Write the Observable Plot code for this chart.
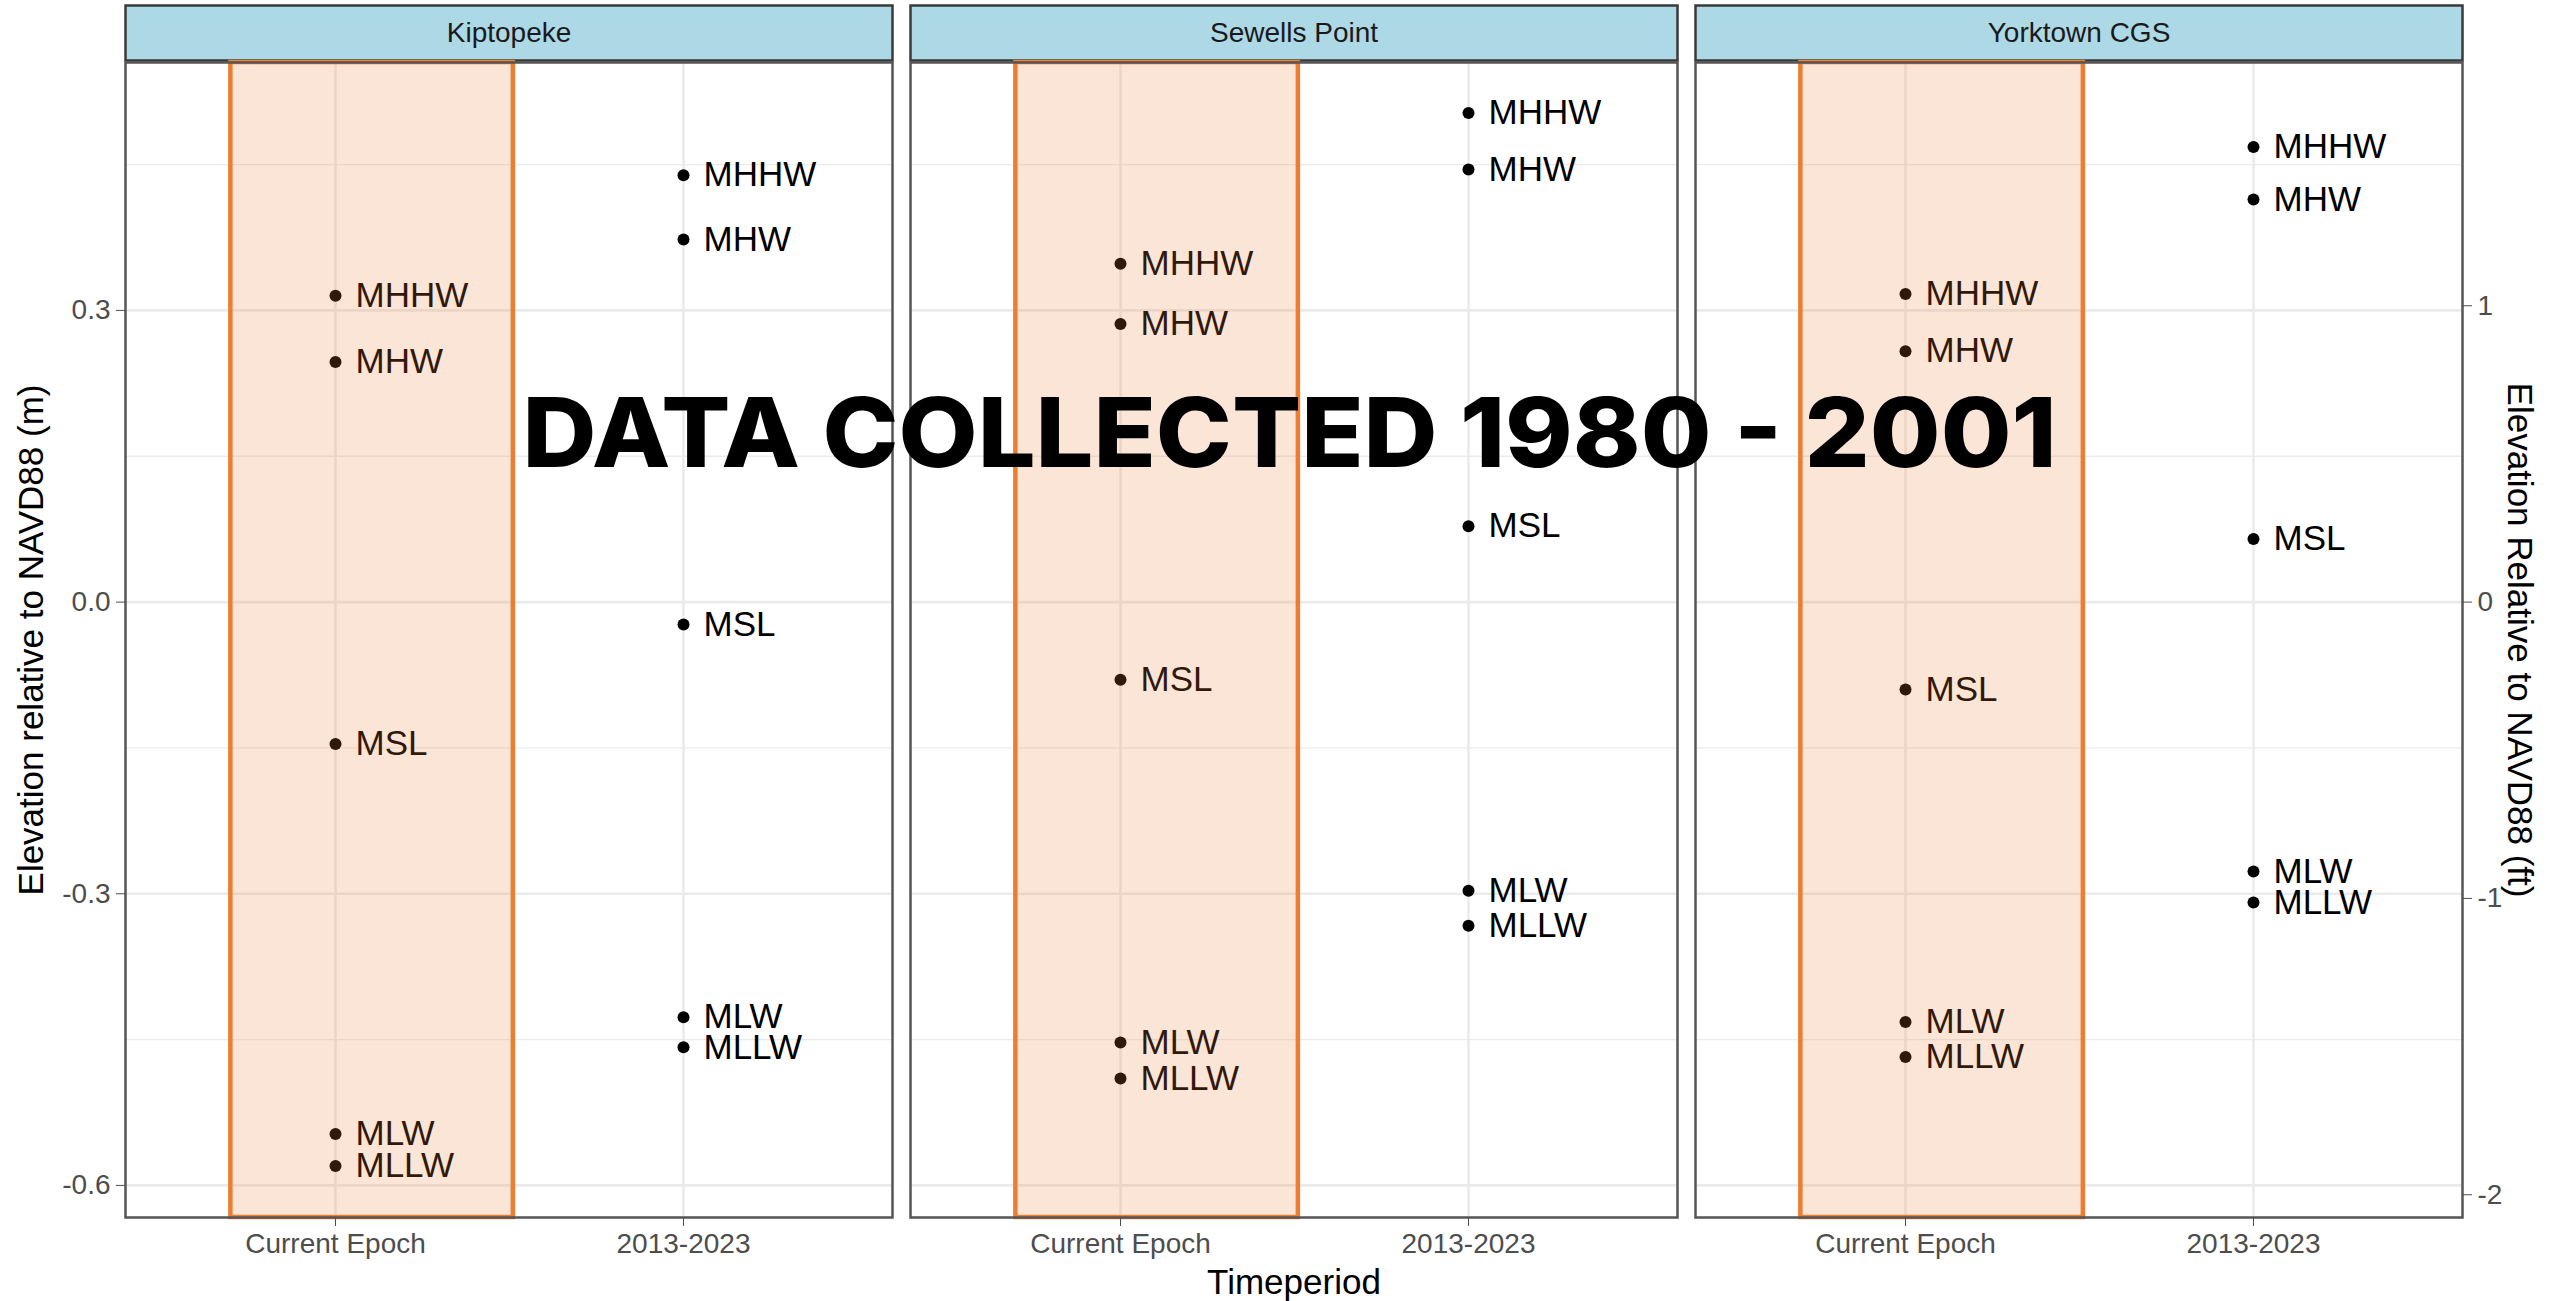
<!DOCTYPE html>
<html>
<head>
<meta charset="utf-8">
<script src="https://cdn.jsdelivr.net/npm/d3@7"></script>
<script src="https://cdn.jsdelivr.net/npm/@observablehq/plot@0.6"></script>
<style>
  html, body { margin: 0; padding: 0; background: #fff; }
  #wrap { position: relative; width: 2552px; height: 1301px; overflow: hidden; background: #fff; }
  #chart svg { display: block; }
  #overlay {
    position: absolute; left: 0; top: 0; white-space: nowrap;
    font-family: Inter, "Open Sans", sans-serif; font-weight: 800;
    font-size: 96px; line-height: 1; color: #000; transform-origin: 50% 0;
  }
  #overlay .bl { display: inline-block; width: 0; height: 0; vertical-align: baseline; }
</style>
</head>
<body>
<div id="wrap">
  <div id="chart"></div>
  <div id="overlay">DATA COLLECTED 1980 - 2001<span class="bl"></span></div>
</div>
<script>
// ---- data (metres relative to NAVD88) ----
const sites = ["Kiptopeke", "Sewells Point", "Yorktown CGS"];
const periods = ["Current Epoch", "2013-2023"];
const datums = ["MHHW", "MHW", "MSL", "MLW", "MLLW"];

const kiptopekeCurrent = [0.315, 0.247, -0.146, -0.547, -0.580];
const kiptopekeRecent  = [0.439, 0.373, -0.023, -0.427, -0.458];
const sewellsCurrent   = [0.348, 0.286, -0.080, -0.453, -0.490];
const sewellsRecent    = [0.503, 0.445, 0.078, -0.297, -0.333];
const yorktownCurrent  = [0.317, 0.258, -0.090, -0.432, -0.468];
const yorktownRecent   = [0.468, 0.414, 0.065, -0.277, -0.309];

const yTicksM = [0.3, 0.0, -0.3, -0.6];
const yMinorM = [0.45, 0.15, -0.15, -0.45];
const yTicksFt = [1, 0, -1, -2];
const yDomain = [-0.633, 0.555];

const yTitleM = "Elevation relative to NAVD88 (m)";
const yTitleFt = "Elevation Relative to NAVD88 (ft)";
const xTitle = "Timeperiod";

// ---- table ----
const seriesBySite = {
  "Kiptopeke": [kiptopekeCurrent, kiptopekeRecent],
  "Sewells Point": [sewellsCurrent, sewellsRecent],
  "Yorktown CGS": [yorktownCurrent, yorktownRecent]
};
const data = [];
for (const s of sites) {
  periods.forEach((p, j) => {
    datums.forEach((d, k) => data.push({site: s, period: p, datum: d, value: seriesBySite[s][j][k]}));
  });
}

// ---- layout ----
const W = 2552, H = 1301;
const mL = 125, mR = 89, mT = 62, mB = 84;
const gap = 18;
const frameH = H - mT - mB;
const step = (W - mL - mR + gap) / sites.length;
const padInner = gap / step;
const bandW = step - gap;
const xPad = 0.6;
const xStep = bandW / (periods.length - 1 + 2 * xPad);
const M_PER_FT = 0.3048;

const fmtM = d => d3.format(".1f")(d).replace("\u2212", "-");
const fmtFt = d => String(Math.round(d / M_PER_FT));

const chart = Plot.plot({
  width: W, height: H,
  marginTop: mT, marginRight: mR, marginBottom: mB, marginLeft: mL,
  style: {fontFamily: "'Liberation Sans', Arial, Helvetica, sans-serif", background: "white", color: "black"},
  fx: {domain: sites, paddingInner: padInner, paddingOuter: 0, label: null},
  x: {type: "point", domain: periods, padding: xPad, label: null},
  y: {domain: yDomain, label: null},
  marks: [
    Plot.gridY({ticks: yMinorM, stroke: "#ebebeb", strokeOpacity: 1, strokeWidth: 1.3}),
    Plot.gridY({ticks: yTicksM, stroke: "#ebebeb", strokeOpacity: 1, strokeWidth: 2.6}),
    Plot.gridX({stroke: "#ebebeb", strokeOpacity: 1, strokeWidth: 2.6}),
    // facet strips
    Plot.frame({fill: "#add8e6", stroke: "#3a3a3a", strokeWidth: 2.5, insetTop: -(mT - 5), insetBottom: frameH + 2}),
    Plot.axisFx({anchor: "top", tickSize: 0, tickPadding: 21, fontSize: 28, color: "#1a1a1a", label: null}),
    // points and labels
    Plot.dot(data, {fx: "site", x: "period", y: "value", r: 6, fill: "black", stroke: null}),
    Plot.text(data, {fx: "site", x: "period", y: "value", text: "datum", textAnchor: "start", dx: 20, fontSize: 35, fill: "black"}),
    // highlight box over the current epoch
    Plot.rect([periods[0]], {
      x1: d => d, x2: d => d, y1: yDomain[0], y2: yDomain[1],
      insetLeft: -0.30 * xStep, insetRight: -0.51 * xStep,
      fill: "#ed7d31", fillOpacity: 0.2, stroke: "#ed7d31", strokeWidth: 4.5
    }),
    Plot.frame({stroke: "#555", strokeWidth: 2.5}),
    Plot.axisX({tickSize: 9, tickPadding: 7, fontSize: 28, color: "#4d4d4d", label: null}),
    Plot.axisY({anchor: "left", ticks: yTicksM, tickFormat: fmtM, tickSize: 9, tickPadding: 6, fontSize: 28, color: "#4d4d4d", label: null}),
    Plot.axisY({anchor: "right", ticks: yTicksFt.map(f => f * M_PER_FT), tickFormat: fmtFt, tickSize: 9, tickPadding: 6, fontSize: 28, color: "#4d4d4d", label: null}),
    Plot.text([yTitleM], {fx: () => sites[0], frameAnchor: "left", textAnchor: "middle", lineAnchor: "middle", rotate: -90, dx: -(mL - 31), fontSize: 35, fill: "black"}),
    Plot.text([yTitleFt], {fx: () => sites[2], frameAnchor: "right", textAnchor: "middle", lineAnchor: "middle", rotate: 90, dx: 57, fontSize: 35, fill: "black"}),
    Plot.text([xTitle], {fx: () => sites[1], frameAnchor: "bottom", textAnchor: "middle", lineAnchor: "middle", dy: 65, fontSize: 35, fill: "black"})
  ]
});
document.getElementById("chart").appendChild(chart);

// ---- overlay title ----
function placeTitle() {
  const ov = document.getElementById("overlay");
  const bl = ov.querySelector(".bl");
  const w = ov.offsetWidth;
  const k = 1534 / w;
  const baseline = bl.offsetTop;
  ov.style.left = (1289 - w / 2) + "px";
  ov.style.top = (467 - baseline) + "px";
  ov.style.transform = `scaleX(${k})`;
}
placeTitle();
if (document.fonts && document.fonts.ready) document.fonts.ready.then(placeTitle);
</script>
</body>
</html>
